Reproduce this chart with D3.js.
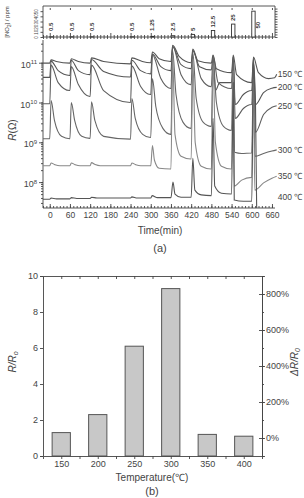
<!DOCTYPE html>
<html>
<head>
<meta charset="utf-8">
<script src="https://cdn.jsdelivr.net/npm/d3@7"></script>
<style>
body{margin:0;background:#fff;}
svg{display:block;font-family:"Liberation Sans",Arial,sans-serif;}
.axis path,.axis line{stroke:#444;stroke-width:0.9;}
.axis text{fill:#444;}
</style>
</head>
<body>
<svg id="chart" width="304" height="498"></svg>
<script>
// ---- (a) NO2 pulses ----
var pulseTimes = [0, 60, 120, 240, 300, 360, 420, 480, 540, 600];
var pulseConc = [0.5, 0.5, 0.5, 0.5, 1.25, 2.5, 5, 12.5, 25, 50];
var pulseLabels = ["0.5", "0.5", "0.5", "0.5", "1.25", "2.5", "5", "12.5", "25", "50"];
var pulseLength = 10;
var concTicks = [0, 10, 20, 30, 40, 50];

// ---- (a) resistance curves, [time min, log10 R] ----
var temps = ["150", "200", "250", "300", "350", "400"];
var r150 = [[-20,10.99],[0,10.99],[4,11.07],[20,11.03],[59,10.99],[60,10.99],[64,11.10],[85,11.03],[119,10.99],
  [120,10.99],[124,11.12],[160,11.03],[239,10.97],[240,10.97],[244,11.12],[275,11.03],[299,11.0],
  [300,11.0],[305,11.27],[325,11.1],[359,11.03],[360,11.03],[365,11.44],[385,11.15],[419,11.0],
  [420,11.0],[425,11.34],[440,11.05],[479,10.99],[480,10.99],[485,11.19],[495,10.85],[539,10.75],
  [540,10.75],[545,11.19],[555,10.7],[599,10.5],[600,10.5],[605,11.14],[620,10.75],[650,10.6],[668,10.62],[674,10.71]];
var r200 = [[-20,10.63],[0,10.63],[4,11.04],[25,10.8],[59,10.68],[60,10.68],[64,11.06],[85,10.8],[119,10.7],
  [120,10.7],[124,11.08],[160,10.78],[239,10.64],[240,10.64],[244,11.06],[270,10.8],[299,10.72],
  [300,10.72],[305,11.22],[330,10.9],[359,10.8],[360,10.8],[365,11.4],[390,10.95],[419,10.85],
  [420,10.85],[425,11.3],[445,10.9],[479,10.82],[480,10.82],[485,11.15],[492,10.3],[505,10.5],[539,10.5],
  [540,10.5],[545,11.15],[551,9.95],[575,10.2],[599,10.3],[600,10.3],[605,11.1],[611,9.95],[635,10.25],[660,10.36],[674,10.38]];
var r250 = [[-20,9.97],[0,9.97],[4,10.94],[25,10.5],[59,10.3],[60,10.3],[64,10.9],[85,10.45],[119,10.15],
  [120,10.15],[124,10.94],[160,10.3],[239,10.0],[240,10.0],[244,10.92],[270,10.4],[299,10.2],
  [300,10.2],[305,11.2],[330,10.6],[359,10.35],[360,10.35],[365,11.42],[390,10.7],[419,10.45],
  [420,10.45],[425,11.32],[450,10.6],[479,10.4],[480,10.4],[485,11.18],[500,10.5],[539,10.35],
  [540,10.35],[545,11.15],[551,9.6],[575,9.85],[599,9.95],[600,9.95],[605,11.05],[611,9.25],[635,9.7],[660,9.88],[674,9.92]];
var r300 = [[-20,9.09],[0,9.09],[4,10.05],[14,9.55],[35,9.15],[59,9.09],[60,9.09],[64,10.0],[74,9.55],[95,9.15],[119,9.1],
  [120,9.1],[124,10.02],[134,9.55],[160,9.15],[239,9.08],[240,9.08],[244,10.1],[254,9.6],[276,9.2],[299,9.12],
  [300,9.12],[305,10.6],[315,9.9],[336,9.35],[359,9.2],[360,9.2],[365,11.3],[375,10.2],[396,9.5],[419,9.35],
  [420,9.35],[425,11.25],[435,10.1],[456,9.5],[479,9.4],[480,9.4],[485,11.12],[495,10.0],[516,9.4],[539,9.3],
  [540,9.3],[545,11.1],[549,8.75],[570,8.72],[599,8.73],[600,8.73],[605,10.9],[609,8.65],[635,8.72],[660,8.78],[674,8.81]];
var r350 = [[-20,8.41],[0,8.41],[4,8.48],[15,8.44],[30,8.41],[60,8.41],[64,8.48],[75,8.44],[90,8.41],
  [120,8.41],[124,8.49],[135,8.44],[150,8.41],[240,8.41],[244,8.48],[255,8.44],[270,8.41],
  [300,8.41],[305,8.92],[311,8.55],[325,8.35],[359,8.33],[360,8.33],[365,11.2],[372,9.2],[390,8.65],[419,8.58],
  [420,8.58],[425,11.1],[432,9.0],[450,8.4],[479,8.33],[480,8.33],[485,11.0],[492,9.0],[510,8.4],[539,8.33],
  [540,8.33],[545,10.8],[548,7.9],[570,8.05],[599,8.12],[600,8.12],[605,10.6],[609,7.8],[635,7.98],[660,8.1],[674,8.15]];
var r400 = [[-20,7.57],[0,7.57],[4,7.6],[20,7.58],[60,7.58],[64,7.61],[80,7.59],[120,7.59],[124,7.62],[140,7.6],
  [240,7.6],[244,7.63],[260,7.6],[300,7.6],[304,7.66],[320,7.61],[360,7.61],[366,8.0],[372,7.7],[390,7.62],
  [420,7.62],[425,8.6],[431,7.8],[450,7.68],[479,7.66],[480,7.66],[485,9.6],[490,7.9],[510,7.72],[539,7.7],
  [540,7.7],[545,10.5],[548,7.55],[575,7.52],[599,7.52],[600,7.52],[605,11.0],[611,10.0],[615,7.0]];
var curves = [r150, r200, r250, r300, r350, r400];
var curveColors = ["#555", "#555", "#5e5e5e", "#666", "#888", "#555"];
var labelLevels = [10.71, 10.38, 9.92, 8.81, 8.15, 7.62];
var timeTicks = [0, 60, 120, 180, 240, 300, 360, 420, 480, 540, 600, 660];

// ---- (b) response bars ----
var barTemps = [150, 200, 250, 300, 350, 400];
var barRatio = [1.3, 2.3, 6.1, 9.3, 1.2, 1.1];
var ratioTicks = [0, 2, 4, 6, 8, 10];
var percentTicks = [0, 200, 400, 600, 800];

var svg = d3.select("#chart");

// ================= (a) =================
var x = d3.scaleLinear().domain([-20, 669]).range([43, 275]);
var yTop = d3.scaleLinear().domain([0, 60]).range([37, 6]);
var yMain = d3.scaleLog().domain([Math.pow(10, 7.35), Math.pow(10, 11.57)]).range([208, 40]);

var minorTimes = d3.range(-20, 670, 10);

// top panel rulers
function ruler(y, inward) {
  var g = svg.append("g").attr("class", "axis").attr("transform", "translate(0," + y + ")")
    .call(d3.axisBottom(x).tickValues(minorTimes).tickSize(2).tickFormat(""));
  g.selectAll(".tick line").attr("y1", inward).attr("y2", 2)
    .filter(function(d) { return d % 60 === 0; }).attr("y1", inward * 2);
  g.select(".domain").attr("d", "M" + x.range()[0] + ",0H" + x.range()[1]);
  return g;
}
ruler(6, 2);
ruler(37, -2);

var gl = svg.append("g").attr("class", "axis").attr("transform", "translate(43,0)")
  .call(d3.axisLeft(yTop).tickValues(concTicks).tickSize(2.5).tickPadding(1));
gl.select(".domain").attr("d", "M0,6V37");
gl.selectAll(".tick text").attr("font-size", "4.5px").attr("transform", "rotate(-90)")
  .attr("x", 0).attr("y", -5).attr("dy", "0").attr("text-anchor", "middle");
var gr = svg.append("g").attr("class", "axis").attr("transform", "translate(275,0)")
  .call(d3.axisRight(yTop).tickValues(concTicks.concat([5, 15, 25, 35, 45, 55])).tickSize(2.5).tickFormat(""));
gr.select(".domain").attr("d", "M0,6V37");

svg.append("text").attr("transform", "translate(9,22) rotate(-90)")
  .attr("text-anchor", "middle").attr("font-size", "6px").attr("fill", "#333")
  .html("[NO<tspan dy='1.5' font-size='4.5px'>2</tspan><tspan dy='-1.5'>] / ppm</tspan>");

svg.selectAll(".pulse").data(pulseTimes).enter().append("rect")
  .attr("class", "pulse")
  .attr("x", function(d) { return x(d); })
  .attr("width", function(d) { return x(d + pulseLength) - x(d); })
  .attr("y", function(d, i) { return yTop(pulseConc[i]); })
  .attr("height", function(d, i) { return yTop(0) - yTop(pulseConc[i]); })
  .attr("fill", "#fff").attr("stroke", "#333").attr("stroke-width", 0.9);

svg.selectAll(".plabel").data(pulseTimes).enter().append("text")
  .attr("class", "plabel")
  .attr("transform", function(d, i) {
    var c = pulseConc[i];
    if (c >= 50) return "translate(" + (x(d + pulseLength) + 4.5) + "," + yTop(c / 2.2) + ") rotate(-90)";
    return "translate(" + (x(d + pulseLength / 2) + 2) + "," + Math.min(yTop(c) - 3, 31) + ") rotate(-90)";
  })
  .attr("text-anchor", function(d, i) { return pulseConc[i] >= 50 ? "middle" : "start"; })
  .attr("font-size", "6px").attr("font-weight", "bold").attr("fill", "#333")
  .text(function(d, i) { return pulseLabels[i]; });

// main plot axes
var logMinor = [];
for (var e = 7; e <= 11; e++) for (var m = 1; m <= 9; m++) {
  var v = m * Math.pow(10, e);
  if (v >= yMain.domain()[0] && v <= yMain.domain()[1]) logMinor.push(v);
}
var gy = svg.append("g").attr("class", "axis").attr("transform", "translate(43,0)")
  .call(d3.axisLeft(yMain).tickValues(logMinor).tickSize(2).tickFormat(""));
gy.select(".domain").attr("d", "M0,40V208");
var gyM = svg.append("g").attr("class", "axis").attr("transform", "translate(43,0)")
  .call(d3.axisLeft(yMain).tickValues([1e8, 1e9, 1e10, 1e11]).tickSize(4).tickPadding(2));
gyM.select(".domain").remove();
gyM.selectAll(".tick text").text(null).attr("font-size", "9px").attr("dy", "0.5em")
  .each(function(d) {
    var t = d3.select(this);
    t.append("tspan").text("10");
    t.append("tspan").attr("dy", "-0.6em").attr("font-size", "6px").text(Math.round(Math.log10(d)));
  });

var gx = svg.append("g").attr("class", "axis").attr("transform", "translate(0,208)")
  .call(d3.axisBottom(x).tickValues(minorTimes).tickSize(-2).tickFormat(""));
gx.select(".domain").attr("d", "M43,0H275");
var gxM = svg.append("g").attr("class", "axis").attr("transform", "translate(0,208)")
  .call(d3.axisBottom(x).tickValues(timeTicks).tickSize(-4).tickPadding(4));
gxM.select(".domain").remove();
gxM.selectAll(".tick text").attr("font-size", "8.5px");

svg.append("defs").append("clipPath").attr("id", "clipA")
  .append("rect").attr("x", 43).attr("y", 38).attr("width", 240).attr("height", 170);

var line = d3.line()
  .x(function(d) { return x(d[0]); })
  .y(function(d) { return yMain(Math.pow(10, d[1])); })
  .curve(d3.curveMonotoneX);

svg.append("g").attr("clip-path", "url(#clipA)")
  .selectAll("path").data(curves).enter().append("path")
  .attr("d", line)
  .attr("fill", "none")
  .attr("stroke", function(d, i) { return curveColors[i]; })
  .attr("stroke-width", 1.1);

svg.selectAll(".tlabel").data(temps).enter().append("text")
  .attr("class", "tlabel")
  .attr("x", x(677))
  .attr("y", function(d, i) { return yMain(Math.pow(10, labelLevels[i])); })
  .attr("dy", "0.35em").attr("font-size", "8.5px").attr("fill", "#444")
  .text(function(d) { return d + " \u2103"; });

svg.append("text").attr("transform", "translate(16,130) rotate(-90)")
  .attr("text-anchor", "middle").attr("font-size", "10px").attr("fill", "#444")
  .html("<tspan font-style='italic'>R</tspan>(\u03A9)");
svg.append("text").attr("x", 160).attr("y", 234).attr("text-anchor", "middle")
  .attr("font-size", "10px").attr("fill", "#444").text("Time(min)");
svg.append("text").attr("x", 160).attr("y", 252).attr("text-anchor", "middle")
  .attr("font-size", "11px").attr("fill", "#444").text("(a)");

// ================= (b) =================
var xb = d3.scaleLinear().domain([125, 425]).range([43, 262]);
var yb = d3.scaleLinear().domain([0, 10]).range([456, 276]);
var yr = d3.scaleLinear().domain([-100, 900]).range([456, 276]);
var barWidth = 25;
var halfTicks = d3.range(150, 401, 25);

svg.selectAll(".bar").data(barTemps).enter().append("rect")
  .attr("class", "bar")
  .attr("x", function(d) { return xb(d - barWidth / 2); })
  .attr("width", xb(barWidth) - xb(0))
  .attr("y", function(d, i) { return yb(barRatio[i]); })
  .attr("height", function(d, i) { return yb(0) - yb(barRatio[i]); })
  .attr("fill", "#c8c8c8").attr("stroke", "#555").attr("stroke-width", 1);

var bl = svg.append("g").attr("class", "axis").attr("transform", "translate(43,0)")
  .call(d3.axisLeft(yb).tickValues(ratioTicks).tickSize(3).tickPadding(2));
bl.selectAll(".tick text").attr("font-size", "9px");
var bt = svg.append("g").attr("class", "axis").attr("transform", "translate(0,276)")
  .call(d3.axisTop(xb).tickValues(halfTicks).tickSize(-3).tickFormat(""));
var bb = svg.append("g").attr("class", "axis").attr("transform", "translate(0,456)")
  .call(d3.axisBottom(xb).tickValues(halfTicks).tickSize(3).tickPadding(2)
    .tickFormat(function(d) { return barTemps.indexOf(d) >= 0 ? d : ""; }));
bb.selectAll(".tick text").attr("font-size", "9px");
var brm = svg.append("g").attr("class", "axis").attr("transform", "translate(262,0)")
  .call(d3.axisRight(yr).tickValues(d3.range(-100, 901, 100)).tickSize(2).tickFormat(""));
var br = svg.append("g").attr("class", "axis").attr("transform", "translate(262,0)")
  .call(d3.axisRight(yr).tickValues(percentTicks).tickSize(3).tickPadding(1)
    .tickFormat(function(d) { return d + "%"; }));
br.selectAll(".tick line").attr("x1", -3);
br.selectAll(".tick text").attr("font-size", "9px");

svg.append("text").attr("transform", "translate(16,362) rotate(-90)")
  .attr("text-anchor", "middle").attr("font-size", "10px").attr("fill", "#444").attr("font-style", "italic")
  .html("R/R<tspan dy='2' font-size='7px'>o</tspan>");
svg.append("text").attr("transform", "translate(298,362) rotate(-90)")
  .attr("text-anchor", "middle").attr("font-size", "10px").attr("fill", "#444").attr("font-style", "italic")
  .html("\u0394R/R<tspan dy='2' font-size='7px'>0</tspan>");
svg.append("text").attr("x", 152).attr("y", 481).attr("text-anchor", "middle")
  .attr("font-size", "10px").attr("fill", "#444").text("Temperature(\u2103)");
svg.append("text").attr("x", 152).attr("y", 495).attr("text-anchor", "middle")
  .attr("font-size", "11px").attr("fill", "#444").text("(b)");
</script>
</body>
</html>
